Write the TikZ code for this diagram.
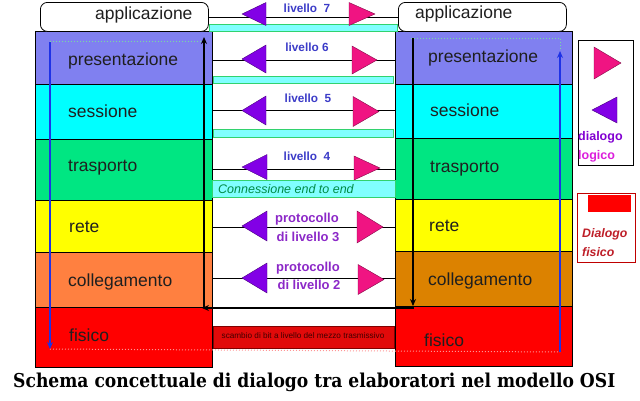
\documentclass[tikz,border=0pt]{standalone}
\usepackage{fontspec}
\setmainfont{Liberation Sans}
\newfontfamily\capfont{DejaVu Serif}
\usetikzlibrary{arrows.meta}
\definecolor{cPres}{RGB}{128,128,240}
\definecolor{cSess}{RGB}{0,255,255}
\definecolor{cTrasp}{RGB}{0,230,130}
\definecolor{cRete}{RGB}{255,255,0}
\definecolor{cCollL}{RGB}{255,128,64}
\definecolor{cCollR}{RGB}{220,130,0}
\definecolor{cFis}{RGB}{255,0,0}
\definecolor{lvblue}{RGB}{60,60,200}
\definecolor{protoviolet}{RGB}{140,40,200}
\definecolor{tripink}{RGB}{240,20,130}
\definecolor{trivio}{RGB}{130,0,230}
\definecolor{barcyan}{RGB}{128,255,255}
\definecolor{bargreen}{RGB}{50,210,110}
\definecolor{endgreen}{RGB}{0,140,70}
\definecolor{dlogico}{RGB}{130,0,210}
\definecolor{llogico}{RGB}{220,30,220}
\definecolor{dfisico}{RGB}{190,30,40}
\definecolor{arrblue}{RGB}{30,50,230}
\definecolor{dotgreen}{RGB}{120,220,160}
\definecolor{dotred}{RGB}{255,150,150}
\definecolor{scambred}{RGB}{225,10,10}
\newcommand\mytriL[4]{\filldraw[trv] (#1,#4) -- (#2,{#4-#3}) -- (#2,{#4+#3}) -- cycle;}
\newcommand\mytriR[4]{\filldraw[trp] (#2,#4) -- (#1,{#4-#3}) -- (#1,{#4+#3}) -- cycle;}
\begin{document}
\begin{tikzpicture}[x=1pt,y=-1pt,
  layerbox/.style={draw=black, line width=0.9pt, inner sep=0pt, anchor=north west, minimum width=177pt},
  appbox/.style={draw=black, line width=0.8pt, rounded corners=7pt, fill=white, inner sep=0pt, anchor=north west, minimum width=168pt, minimum height=29pt},
  laytext/.style={font=\fontsize{17.5}{20}\selectfont, anchor=west, text=black!88, inner sep=0pt},
  lv/.style={font=\bfseries\fontsize{11.8}{13}\selectfont, text=lvblue, inner sep=0pt},
  proto/.style={font=\bfseries\fontsize{13}{15}\selectfont, text=protoviolet, inner sep=0pt},
  trp/.style={fill=tripink, draw=tripink!55!black, line width=0.4pt},
  trv/.style={fill=trivio, draw=trivio!55!black, line width=0.4pt},
  bar/.style={draw=bargreen, fill=barcyan, line width=0.9pt, inner sep=0pt, anchor=north west},
  lvline/.style={draw=black, line width=0.7pt},
  blk/.style={draw=black, line width=1.8pt, -{Stealth[length=7pt,width=6pt]}},
  blu/.style={draw=arrblue, line width=1.2pt, -{Stealth[length=7pt,width=6pt]}},
  legbox/.style={draw=black, line width=0.8pt, inner sep=0pt, anchor=north west}
]
\useasboundingbox (0,0) rectangle (640,400);
\fill[white] (0,0) rectangle (640,400);

% left stack
\node[layerbox, fill=cPres,  minimum height=53pt] (Lpres)  at (35,31)  {};
\node[layerbox, fill=cSess,  minimum height=55pt] (Lsess)  at (35,84)  {};
\node[layerbox, fill=cTrasp, minimum height=61pt] (Ltrasp) at (35,139) {};
\node[layerbox, fill=cRete,  minimum height=52pt] (Lrete)  at (35,200) {};
\node[layerbox, fill=cCollL, minimum height=55pt] (Lcoll)  at (35,252) {};
\node[layerbox, fill=cFis,   minimum height=60pt] (Lfis)   at (35,307) {};
% right stack
\node[layerbox, fill=cPres,  minimum height=53pt] (Rpres)  at (395,31)  {};
\node[layerbox, fill=cSess,  minimum height=54pt] (Rsess)  at (395,84)  {};
\node[layerbox, fill=cTrasp, minimum height=61pt] (Rtrasp) at (395,138) {};
\node[layerbox, fill=cRete,  minimum height=52pt] (Rrete)  at (395,199) {};
\node[layerbox, fill=cCollR, minimum height=55pt] (Rcoll)  at (395,251) {};
\node[layerbox, fill=cFis,   minimum height=60pt] (Rfis)   at (395,306) {};

% application boxes
\node[appbox] (AppL) at (40,2) {};
\node[appbox] (AppR) at (398,2) {};
\node[laytext] (tAppL) at (95,15) {applicazione};
\node[laytext] (tAppR) at (415,14) {applicazione};

% layer texts
\node[laytext] (tLpres)  at (68,61)  {presentazione};
\node[laytext] (tLsess)  at (68,111) {sessione};
\node[laytext] (tLtrasp) at (68,168) {trasporto};
\node[laytext] (tLrete)  at (69,227) {rete};
\node[laytext] (tLcoll)  at (68,282) {collegamento};
\node[laytext] (tLfis)   at (69,335) {fisico};
\node[laytext] (tRpres)  at (428,58)  {presentazione};
\node[laytext] (tRsess)  at (430,110) {sessione};
\node[laytext] (tRtrasp) at (430,169) {trasporto};
\node[laytext] (tRrete)  at (429,226) {rete};
\node[laytext] (tRcoll)  at (428,281) {collegamento};
\node[laytext] (tRfis)   at (424,340) {fisico};

% cyan bars
\node[bar, minimum width=188pt, minimum height=7pt] (bar7) at (209,24) {};
\node[bar, minimum width=180pt, minimum height=7pt] (bar6) at (213,76) {};
\node[bar, minimum width=180pt, minimum height=8pt] (bar5) at (213,129) {};
\node[bar, minimum width=183pt, minimum height=17pt] (barE) at (212,180) {};
\node[font=\itshape\fontsize{12.5}{14}\selectfont, text=endgreen, anchor=west, inner sep=0pt] (tEnd) at (218,189) {Connessione end to end};

% red physical bar
\node[draw=red!50!black, fill=scambred, line width=0.7pt, anchor=north west, inner sep=0pt, minimum width=181pt, minimum height=22pt] (barF) at (213,326) {};
\node[font=\fontsize{8.2}{9}\selectfont, text=black!75!red, inner sep=0pt] (tScamb) at (303,336) {scambio di bit a livello del mezzo trasmissivo};

% level lines
\coordinate (l6a) at (212,60);  \coordinate (l6b) at (395,60);
\coordinate (l5a) at (212,110); \coordinate (l5b) at (395,110);
\coordinate (l4a) at (212,169); \coordinate (l4b) at (395,169);
\coordinate (l3a) at (212,227); \coordinate (l3b) at (395,227);
\coordinate (l2a) at (212,278); \coordinate (l2b) at (395,278);
\draw[lvline] (AppL) -- (AppR);
\draw[lvline] (l6a) -- (l6b);
\draw[lvline] (l5a) -- (l5b);
\draw[lvline] (l4a) -- (l4b);
\draw[lvline] (l3a) -- (l3b);
\draw[lvline] (l2a) -- (l2b);

% triangles
\mytriL{242}{266}{11.5}{14}
\mytriR{349}{375}{11.5}{14}
\mytriL{242}{266}{14}{59}
\mytriR{352}{377}{14}{60}
\mytriL{242}{266}{14.5}{110.5}
\mytriR{353}{379}{15}{111.5}
\mytriL{242}{267}{12.5}{167}
\mytriR{354}{380}{12}{168}
\mytriL{242}{267}{15}{226}
\mytriR{357}{383}{16}{227}
\mytriL{242}{267}{15}{278}
\mytriR{358}{384}{15}{279.5}

% level labels
\node[lv] (lab7) at (307,8)   {livello\ \ 7};
\node[lv] (lab6) at (307,47)  {livello 6};
\node[lv] (lab5) at (308,98)  {livello\ \ 5};
\node[lv] (lab4) at (307,156) {livello\ \ 4};
\node[proto] (p3a) at (307,219) {protocollo};
\node[proto] (p3b) at (308,237) {di livello 3};
\node[proto] (p2a) at (308,268) {protocollo};
\node[proto] (p2b) at (309,285) {di livello 2};

% dotted guide lines
\coordinate (gL1) at (50,41);  \coordinate (gL2) at (203,41);
\coordinate (gR1) at (411,38); \coordinate (gR2) at (560,38); \coordinate (gR3) at (560,50);
\coordinate (gB1) at (50,349); \coordinate (gB2) at (560,352);
\draw[dotgreen, line width=1pt, dotted] (gL1) -- (gL2);
\draw[dotgreen, line width=1pt, dotted] (gR1) -- (gR2) -- (gR3);
\draw[dotred, line width=1pt, dotted] (gB1) -- (gB2);

% blue arrows
\coordinate (bL1) at (50,42);  \coordinate (bL2) at (50,349);
\coordinate (bR1) at (560,352); \coordinate (bR2) at (560,51);
\draw[blu] (bL1) -- (bL2);
\draw[blu] (bR1) -- (bR2);

% black arrows
\coordinate (kR1) at (413,38);  \coordinate (kR2) at (413,306);
\coordinate (kH1) at (414,308); \coordinate (kH2) at (202,308);
\coordinate (kL1) at (204,307); \coordinate (kL2) at (204,37);
\draw[blk] (kR1) -- (kR2);
\draw[blk] (kH1) -- (kH2);
\draw[blk] (kL1) -- (kL2);

% legend 1
\node[legbox, minimum width=55pt, minimum height=125pt] (Leg1) at (578,40) {};
\mytriR{594}{621}{16}{63}
\mytriL{592}{617}{13}{110}
\node[font=\bfseries\fontsize{12.5}{14}\selectfont, text=dlogico, anchor=west, inner sep=0pt] (tDl) at (578,137) {dialogo};
\node[font=\bfseries\fontsize{12.5}{14}\selectfont, text=llogico, anchor=west, inner sep=0pt] (tLl) at (578,156) {logico};

% legend 2
\node[legbox, draw=red!75!black, minimum width=58pt, minimum height=69pt] (Leg2) at (577,193) {};
\node[fill=red, inner sep=0pt, anchor=north west, minimum width=43pt, minimum height=17pt] (Leg2r) at (588,195) {};
\node[font=\bfseries\itshape\fontsize{12.3}{14}\selectfont, text=dfisico, anchor=west, inner sep=0pt] (tDf) at (582,234) {Dialogo};
\node[font=\bfseries\itshape\fontsize{12.3}{14}\selectfont, text=dfisico, anchor=west, inner sep=0pt] (tFf) at (582,252) {fisico};

% caption
\node[anchor=base west, inner sep=0pt] (cap) at (13,387) {\resizebox{602pt}{14.5pt}{\capfont\bfseries Schema concettuale di dialogo tra elaboratori nel modello OSI}};
\end{tikzpicture}
\end{document}
